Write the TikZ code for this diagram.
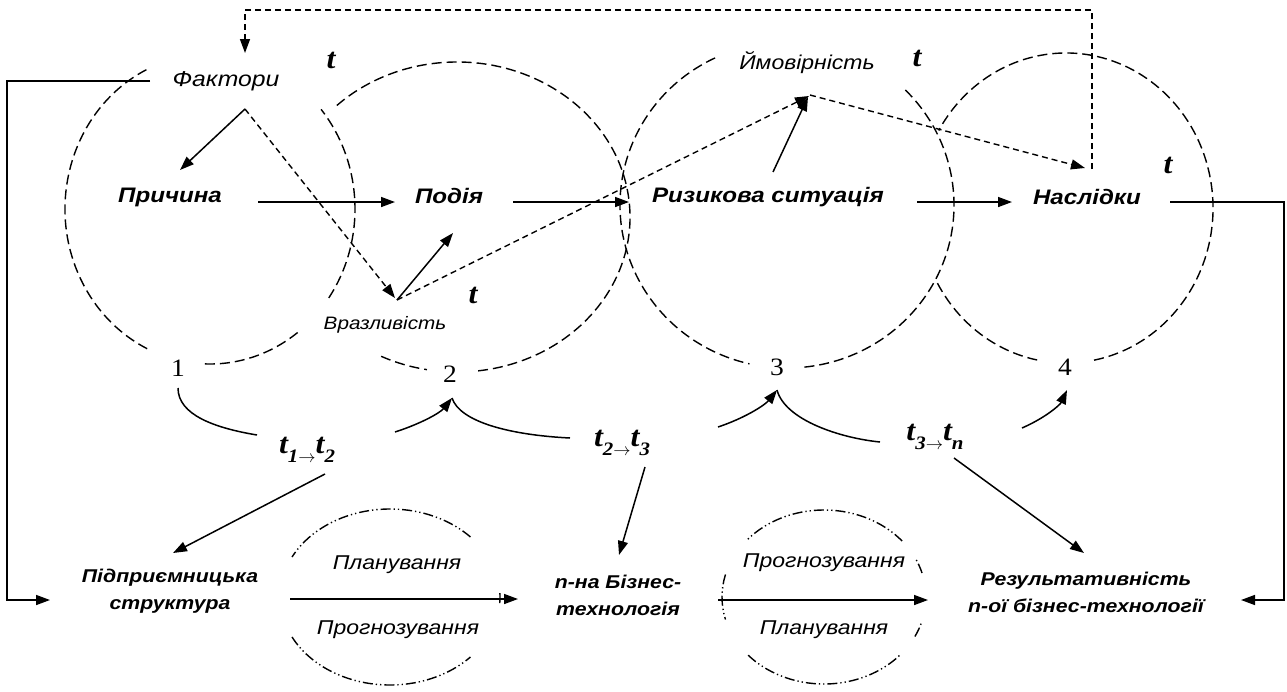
\documentclass[tikz,border=0pt]{standalone}
\usepackage{fontspec}
\setmainfont{Liberation Sans}[FakeStretch=1.15]
\newfontfamily\tms{Liberation Serif}[FakeStretch=1.1]
\usetikzlibrary{arrows.meta,calc}
\newcommand{\tsub}[1]{\raisebox{-0.3em}{\fontsize{19}{19}\selectfont #1}}
\tikzset{
  lbl/.style={font=\fontsize{21}{25}\selectfont\bfseries\itshape, inner sep=0pt},
  blbl/.style={font=\fontsize{18.5}{27}\selectfont\bfseries\itshape, inner sep=0pt, align=center},
  ilbl/.style={font=\fontsize{20}{24}\selectfont\itshape, inner sep=0pt},
  tlab/.style={font=\tms\fontsize{29}{30}\selectfont\bfseries\itshape, inner sep=0pt},
  num/.style={font=\tms\fontsize{25}{26}\selectfont, inner sep=0pt},
  circ/.style={dash pattern=on 10pt off 5pt, line width=1.4pt},
  ddot/.style={dash pattern=on 10pt off 3pt on 1.3pt off 3pt on 1.3pt off 3pt, line width=1.4pt},
  arr/.style={-{Triangle[length=14pt,width=10pt]}, line width=1.5pt},
  darr/.style={dash pattern=on 6pt off 4pt, line width=1.4pt, -{Triangle[length=14pt,width=10pt]}},
  plain/.style={line width=1.5pt}
}
\begin{document}
\begin{tikzpicture}[x=1pt,y=1pt]
\useasboundingbox (0,0) rectangle (1287,-691);
% ---- big dashed circles ----
\coordinate (c1) at (210,-209);
\coordinate (c2) at (457,-217);
\coordinate (c3) at (787,-205);
\coordinate (c4) at (1066,-208);
\draw[circ] (c1) ++(116:145 and 155) arc[start angle=116,end angle=246,x radius=145,y radius=155];
\draw[circ] (c1) ++(268:145 and 155) arc[start angle=268,end angle=308,x radius=145,y radius=155];
\draw[circ] (c1) ++(-35:145 and 155) arc[start angle=-35,end angle=40,x radius=145,y radius=155];
\draw[circ] (c2) ++(-83:173 and 155) arc[start angle=-83,end angle=135,x radius=173,y radius=155];
\draw[circ] (c2) ++(244:173 and 155) arc[start angle=244,end angle=260,x radius=173,y radius=155];
\draw[circ] (c3) ++(115.5:167 and 163) arc[start angle=115.5,end angle=257,x radius=167,y radius=163];
\draw[circ] (c3) ++(-84:167 and 163) arc[start angle=-84,end angle=46,x radius=167,y radius=163];
\draw[circ] (c4) ++(-79:147 and 155) arc[start angle=-79,end angle=150,x radius=147,y radius=155];
\draw[circ] (c4) ++(209:147 and 155) arc[start angle=209,end angle=259,x radius=147,y radius=155];
% ---- dash-dot ellipses ----
\coordinate (ea) at (390,-597);
\coordinate (eb) at (824,-597);
\draw[ddot] (ea) ++(43:110 and 88) arc[start angle=43,end angle=153,x radius=110,y radius=88];
\draw[ddot] (ea) ++(207:110 and 88) arc[start angle=207,end angle=317,x radius=110,y radius=88];
\draw[ddot] (ea) ++(-4:110 and 88) arc[start angle=-4,end angle=4,x radius=110,y radius=88];
\draw[ddot] (eb) ++(40:102 and 87) arc[start angle=40,end angle=140,x radius=102,y radius=87];
\draw[ddot] (eb) ++(165:102 and 87) arc[start angle=165,end angle=195,x radius=102,y radius=87];
\draw[ddot] (eb) ++(16:102 and 87) arc[start angle=16,end angle=27,x radius=102,y radius=87];
\draw[ddot] (eb) ++(-27:102 and 87) arc[start angle=-27,end angle=-16,x radius=102,y radius=87];
\draw[ddot] (eb) ++(222:102 and 87) arc[start angle=222,end angle=319,x radius=102,y radius=87];
% ---- texts ----
\node[ilbl, font=\fontsize{21.5}{24}\selectfont\itshape] (fak) at (226,-81) {Фактори};
\node[tlab] (ta) at (331,-60) {t};
\node[ilbl] (ymov) at (807,-63) {Ймовірність};
\node[tlab] (tb) at (917,-58) {t};
\node[lbl] (pry) at (170,-197) {Причина};
\node[lbl] (pod) at (449,-196) {Подія};
\node[lbl] (ryz) at (768,-197) {Ризикова ситуація};
\node[lbl] (nasl) at (1087,-197) {Наслідки};
\node[tlab] (tc) at (1168,-165) {t};
\node[tlab] (td) at (473,-295) {t};
\node[ilbl, font=\fontsize{18}{22}\selectfont\itshape] (vraz) at (385,-325) {Вразливість};
\node[num] (n1) at (178,-368) {1};
\node[num] (n2) at (450,-374) {2};
\node[num] (n3) at (777,-367) {3};
\node[num] (n4) at (1065,-367) {4};
\node[tlab] (t12) at (307,-450) {t\tsub{1$\rightarrow$}t\tsub{2}};
\node[tlab] (t23) at (622,-443) {t\tsub{2$\rightarrow$}t\tsub{3}};
\node[tlab] (t3n) at (935,-437) {t\tsub{3$\rightarrow$}t\tsub{n}};
\node[blbl] (pidp) at (170,-591) {Підприємницька\\структура};
\node[ilbl] (plan1) at (397,-565) {Планування};
\node[ilbl] (progn1) at (398,-630) {Прогнозування};
\node[blbl] (biz) at (618,-595) {n-на Бізнес-\\технологія};
\node[ilbl] (progn2) at (824,-563) {Прогнозування};
\node[ilbl] (plan2) at (824,-630) {Планування};
\node[blbl] (rez) at (1086,-592) {Результативність\\n-ої бізнес-технології};
% ---- connectors ----
\draw[arr] ($(fak)+(19,-28)$) -- ($(pry)+(10,27)$);
\draw[darr] ($(fak)+(19,-28)$) -- ($(vraz)+(10,27)$);
\draw[arr] ($(pry)+(88,-5)$) -- ($(pod)+(-54,-6)$);
\draw[arr] ($(pod)+(64,-6)$) -- ($(ryz)+(-139,-5)$);
\draw[arr] ($(ryz)+(149,-5)$) -- ($(nasl)+(-75,-5)$);
\draw[arr] ($(vraz)+(12,25)$) -- ($(pod)+(4,-37)$);
\draw[darr] ($(vraz)+(12,25)$) -- ($(ymov)+(2,-33)$);
\draw[arr] ($(ryz)+(5,25)$) -- ($(ymov)+(1,-34)$);
\draw[darr] ($(ymov)+(3,-32)$) -- ($(nasl)+(-2,29)$);
\draw[darr] ($(nasl)+(5,28)$) -- ++(0,159) -| ($(fak)+(19,28)$);
\draw[arr] ($(fak)+(-76,0)$) -- ++(-143,0) |- ($(pidp)+(-120,-9)$);
\draw[arr] ($(nasl)+(83,-5)$) -- ++(114,0) |- ($(rez)+(155,-8)$);
\draw[arr] ($(pidp)+(120,-8)$) -- ($(biz)+(-100,-4)$);
\draw[arr] ($(biz)+(100,-5)$) -- ($(rez)+(-158,-8)$);
\draw[arr] ($(t12)+(18,-24)$) -- ($(pidp)+(3,38)$);
\draw[arr] ($(t23)+(23,-24)$) -- ($(biz)+(1,40)$);
\draw[arr] ($(t3n)+(19,-21)$) -- ($(rez)+(-2,39)$);
% ---- curved ----
\draw[plain] ($(n1)+(0,-20)$) .. controls (178,-415) and (215,-428) .. ($(t12)+(-50,15)$);
\draw[arr] ($(t12)+(88,18)$) .. controls (420,-424) and (440,-413) .. ($(n2)+(2,-24)$);
\draw[plain] ($(n2)+(2,-24)$) .. controls (460,-422) and (510,-435) .. ($(t23)+(-52,5)$);
\draw[arr] ($(t23)+(96,16)$) .. controls (745,-418) and (765,-405) .. ($(n3)+(0,-23)$);
\draw[plain] ($(n3)+(0,-23)$) .. controls (785,-420) and (840,-438) .. ($(t3n)+(-55,-5)$);
\draw[arr] ($(t3n)+(87,9)$) .. controls (1045,-418) and (1060,-405) .. ($(n4)+(2,-23)$);
\end{tikzpicture}
\end{document}
